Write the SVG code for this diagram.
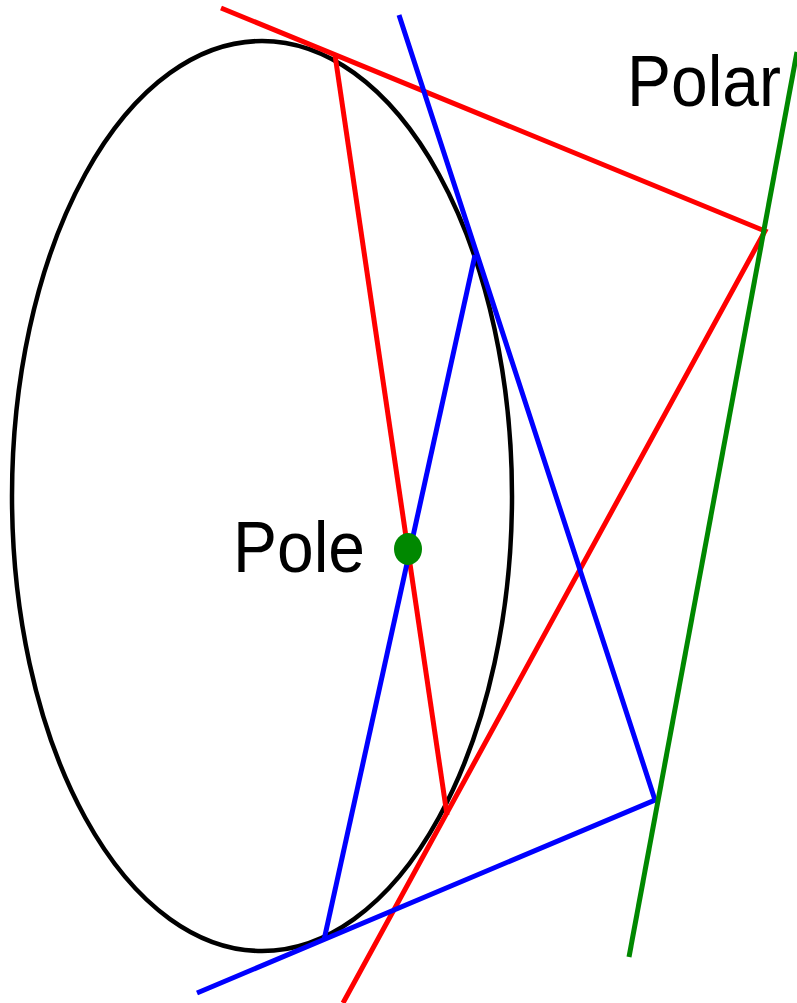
<svg xmlns="http://www.w3.org/2000/svg" width="797" height="1003" viewBox="0 0 797 1003">
<style>
.red{stroke:#ff0000;stroke-width:5;fill:none}
.blue{stroke:#0000ff;stroke-width:5;fill:none}
.green{stroke:#008800;stroke-width:5;fill:none}
.lbl{font-family:"Liberation Sans",Arial,sans-serif;font-size:72px;fill:#000}
</style>
<rect width="797" height="1003" fill="#fff"/>
<g id="conic">
<ellipse cx="262" cy="496" rx="250" ry="455" fill="none" stroke="#000" stroke-width="4.5"/>
</g>
<g id="connectors">
<polyline class="red" points="221,8 765,231 343,1003"/>
<line class="red" x1="335" y1="55" x2="447" y2="815"/>
<polyline class="blue" points="399,15 655,800 197,993"/>
<line class="blue" x1="475" y1="255" x2="324" y2="940"/>
<line class="green" x1="797" y1="52" x2="629" y2="957"/>
</g>
<g id="pole">
<ellipse cx="408" cy="549" rx="14" ry="16" fill="#008800"/>
<text class="lbl" x="233" y="572" textLength="132" lengthAdjust="spacingAndGlyphs">Pole</text>
</g>
<g id="polar">
<text class="lbl" x="627" y="106" textLength="154" lengthAdjust="spacingAndGlyphs">Polar</text>
</g>
</svg>
